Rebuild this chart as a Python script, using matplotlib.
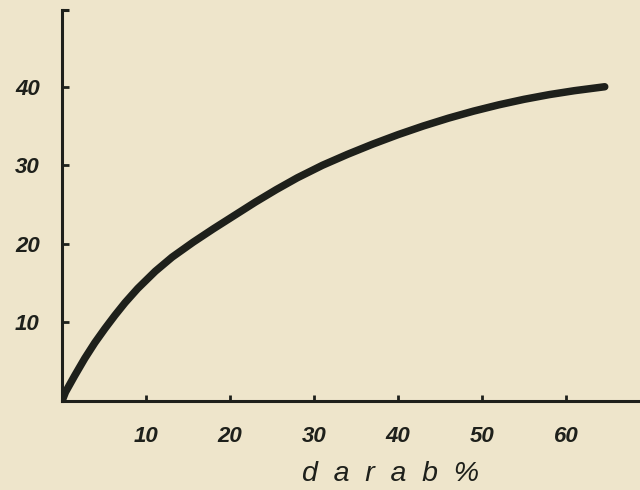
import matplotlib
matplotlib.use("Agg")

import matplotlib.pyplot as plt

PAPER = "#EEE5CB"
INK = "#1E201B"

# values
darab_pct = [0.0, 0.4, 1.5, 2.7, 3.9, 5.1, 6.3, 7.5, 9.0, 11.1, 13.1, 15.6,
             18.0, 20.5, 23.0, 25.5, 28.0, 31.0, 34.0, 37.0, 40.0, 43.0,
             46.0, 49.0, 52.0, 55.0, 58.0, 61.0, 64.6]
value = [0.0, 1.1, 3.2, 5.4, 7.4, 9.2, 10.9, 12.5, 14.3, 16.5, 18.3, 20.2,
         21.9, 23.6, 25.3, 26.9, 28.4, 30.0, 31.4, 32.7, 33.9, 35.0,
         36.0, 36.9, 37.7, 38.4, 39.0, 39.5, 40.0]

x_ticks = [10, 20, 30, 40, 50, 60]
y_ticks = [10, 20, 30, 40]
X_MAX = 68.8
Y_MAX = 49.8
X_LABEL = "d  a  r  a  b  %"

plt.rcParams.update({
    "font.family": ["Liberation Sans", "DejaVu Sans"],
    "text.color": INK,
})

fig = plt.figure(figsize=(6.4, 4.9), dpi=100, facecolor=PAPER)
ax = fig.add_axes([0.097, 0.182, 0.903, 0.798])
ax.set_facecolor(PAPER)

ax.plot(darab_pct, value, color=INK, linewidth=5.4,
        solid_capstyle="round", solid_joinstyle="round")

ax.set_xlim(0, X_MAX)
ax.set_ylim(0, Y_MAX)

for side in ["top", "right"]:
    ax.spines[side].set_visible(False)
for side in ["left", "bottom"]:
    ax.spines[side].set_linewidth(2.2)
    ax.spines[side].set_color(INK)

ax.set_xticks(x_ticks)
ax.set_xticklabels([str(t) for t in x_ticks])
ax.set_yticks(y_ticks)
ax.set_yticklabels([str(t) for t in y_ticks])

# small serif at the top of the vertical axis
ax.set_yticks([Y_MAX], minor=True)
ax.tick_params(axis="y", which="minor", direction="in", length=5,
               width=2.2, color=INK)

ax.tick_params(axis="x", direction="in", length=4, width=2.0, color=INK,
               labelsize=16, labelcolor=INK, pad=18)
ax.tick_params(axis="y", which="major", direction="in", length=5,
               width=2.0, color=INK, labelsize=16, labelcolor=INK, pad=16)

for lab in ax.get_xticklabels() + ax.get_yticklabels():
    lab.set_fontstyle("italic")
    lab.set_fontweight("bold")

ax.set_xlabel(X_LABEL, fontsize=20.5, color=INK, fontstyle="italic")
ax.xaxis.label.set_va("baseline")
ax.xaxis.set_label_coords(0.569, -0.205)

fig.savefig("out.png", dpi=100, facecolor=PAPER)
